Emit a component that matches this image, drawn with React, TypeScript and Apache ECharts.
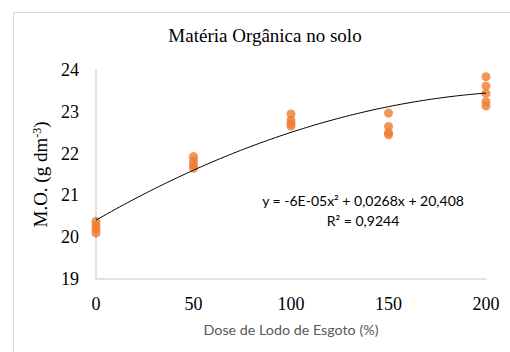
import React, { useEffect, useRef } from "react";
import * as echarts from "echarts";

const doses = [0, 50, 100, 150, 200];
const mo0 = [20.38, 20.28, 20.2, 20.1];
const mo50 = [21.93, 21.83, 21.73, 21.65];
const mo100 = [22.95, 22.8, 22.72, 22.66];
const mo150 = [22.97, 22.65, 22.5, 22.45];
const mo200 = [23.84, 23.62, 23.44, 23.24, 23.14];
const groups = [mo0, mo50, mo100, mo150, mo200];

// trendline coefficients (shown equation; quadratic term as drawn)
const trendA = -5.8e-5;
const trendB = 0.0268;
const trendC = 20.408;

const titleText = "Matéria Orgânica no solo";
const xName = "Dose de Lodo de Esgoto (%)";
const eqText = "y = -6E-05x² + 0,0268x + 20,408";
const r2Text = "R² = 0,9244";

export default function App() {
  const ref = useRef<HTMLDivElement>(null);
  useEffect(() => {
    if (!ref.current) return;
    const chart = echarts.init(ref.current, undefined, { renderer: "svg" });
    const pts: number[][] = [];
    groups.forEach((g, i) => g.forEach((v) => pts.push([doses[i], v])));
    const curve: number[][] = [];
    for (let x = 0; x <= 200; x += 2) curve.push([x, trendA * x * x + trendB * x + trendC]);
    const serif = "Liberation Serif";
    chart.setOption({
      animation: false,
      backgroundColor: "#fff",
      title: {
        text: titleText,
        left: 265,
        top: 26,
        textAlign: "center",
        padding: 0,
        textStyle: { fontFamily: serif, fontSize: 19, fontWeight: "normal", color: "#000" },
      },
      graphic: [
        {
          type: "rect",
          shape: { x: 13.5, y: 12.5, width: 600, height: 400 },
          style: { fill: "none", stroke: "#d9d9d9", lineWidth: 1 },
          silent: true,
        },
        {
          type: "text",
          x: 363,
          y: 200,
          style: {
            text: eqText,
            fontFamily: "Lato",
            fontSize: 14,
            fill: "#000",
            textAlign: "center",
            textVerticalAlign: "middle",
          },
        },
        {
          type: "text",
          x: 363,
          y: 220,
          style: {
            text: r2Text,
            fontFamily: "Lato",
            fontSize: 14,
            fill: "#000",
            textAlign: "center",
            textVerticalAlign: "middle",
          },
        },
      ],
      grid: { left: 96, right: 24, top: 70, bottom: 73 },
      xAxis: {
        type: "value",
        min: 0,
        max: 200,
        interval: 50,
        name: xName,
        nameLocation: "middle",
        nameGap: 43,
        nameTextStyle: { fontFamily: "Lato", fontSize: 14.3, color: "#595959" },
        axisLine: { lineStyle: { color: "#d9d9d9", width: 1.5 } },
        axisTick: { show: false },
        splitLine: { show: false },
        axisLabel: { fontFamily: serif, fontSize: 18, color: "#000", margin: 16 },
      },
      yAxis: {
        type: "value",
        min: 19,
        max: 24,
        interval: 1,
        name: "{a|M.O. (g dm}{s|-3}{a|)}",
        nameLocation: "middle",
        nameGap: 41,
        nameTextStyle: {
          rich: {
            a: { fontFamily: serif, fontSize: 19, color: "#000" },
            s: { fontFamily: serif, fontSize: 12, color: "#000", verticalAlign: "top", padding: [0, 0, 8, 0] },
          },
        },
        axisLine: { show: true, lineStyle: { color: "#d9d9d9", width: 1.5 } },
        axisTick: { show: false },
        splitLine: { show: false },
        axisLabel: { fontFamily: serif, fontSize: 18, color: "#000", margin: 17 },
      },
      series: [
        {
          type: "line",
          data: curve,
          showSymbol: false,
          smooth: false,
          lineStyle: { color: "#000", width: 1 },
          z: 3,
          silent: true,
        },
        {
          type: "scatter",
          data: pts,
          symbol: "circle",
          symbolSize: 9,
          itemStyle: { color: "#ED7D31" },
          z: 2,
        },
      ],
    });
    return () => chart.dispose();
  }, []);
  return (
    <div
      ref={ref}
      style={{ position: "fixed", left: 0, top: 0, width: 510, height: 352 }}
    />
  );
}
